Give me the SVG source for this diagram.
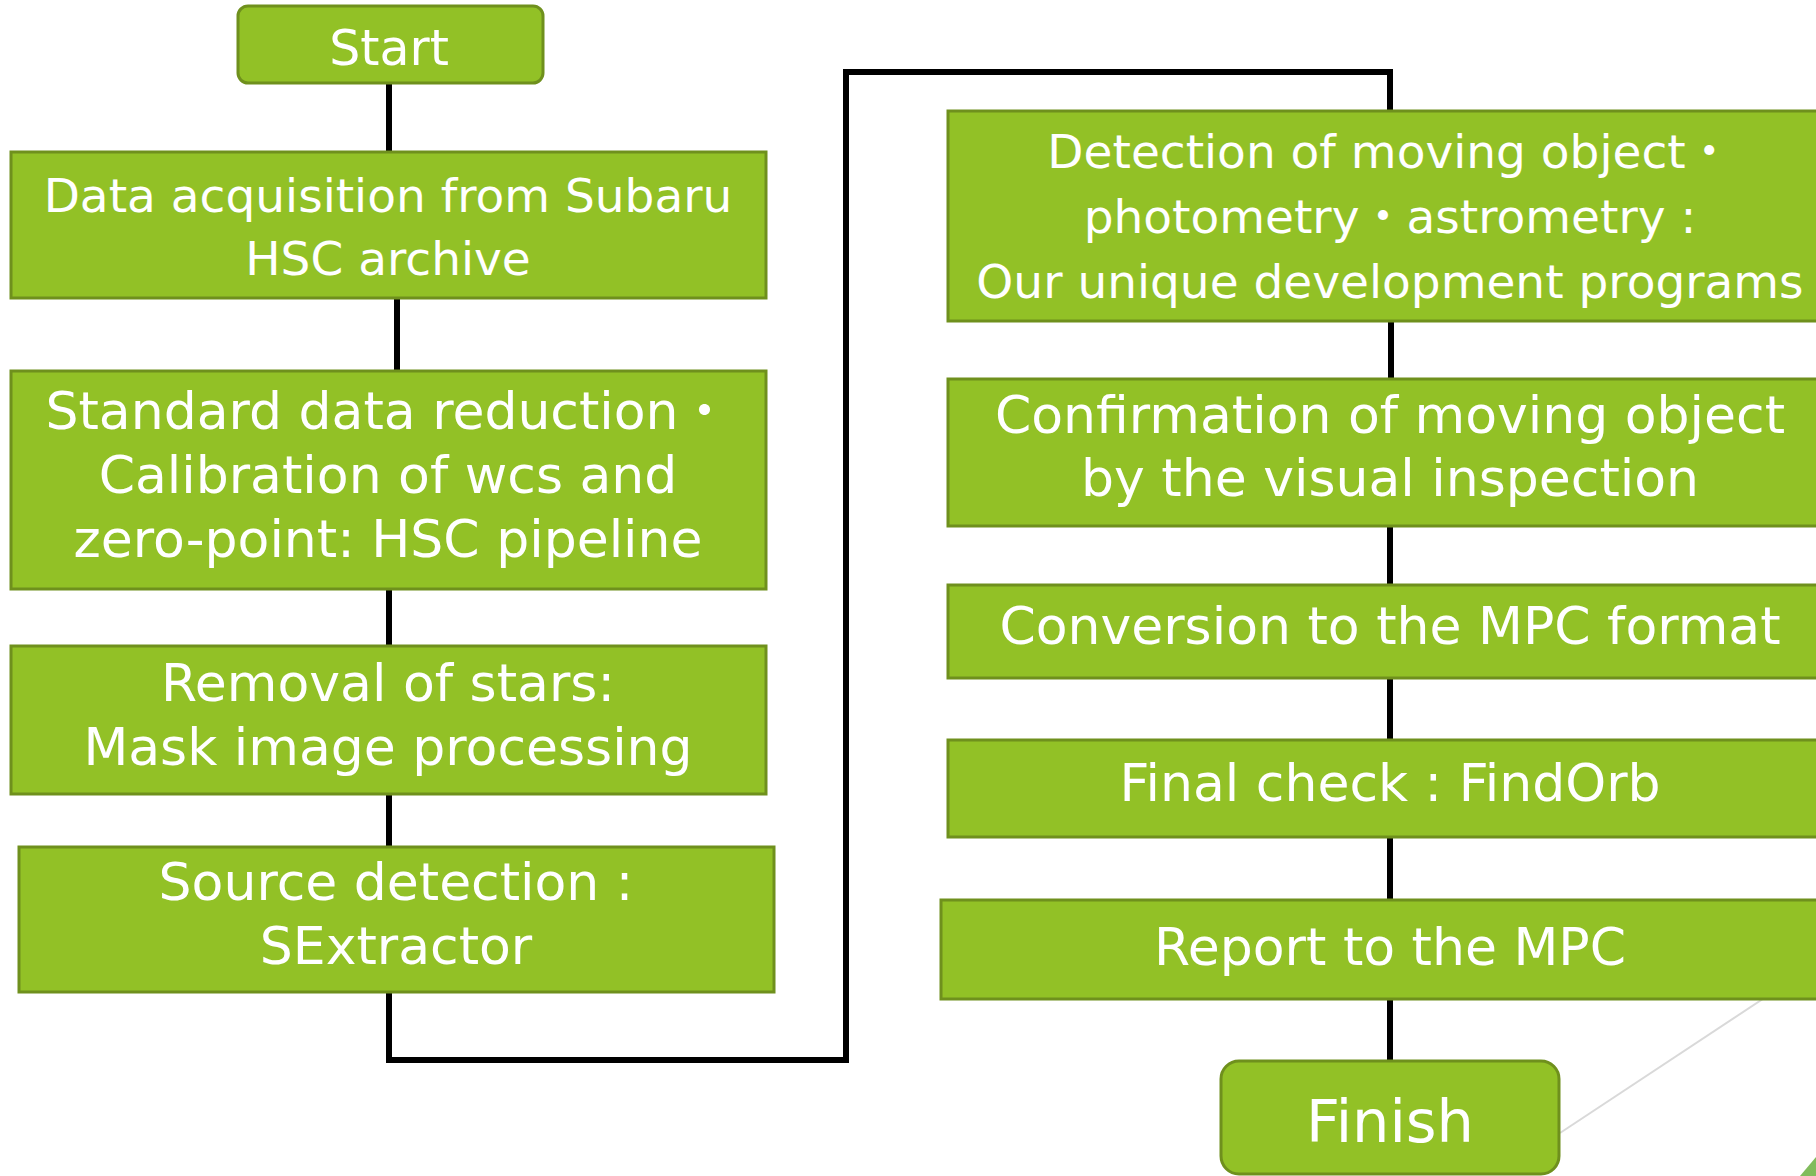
<svg xmlns="http://www.w3.org/2000/svg" width="1816" height="1176" viewBox="0 0 1816 1176">
<style>
.box{fill:#92C126;stroke:#6F901D;stroke-width:3}
.t{fill:#ffffff;font-family:"DejaVu Sans","Noto Sans CJK JP",sans-serif;font-size:47px;text-anchor:middle}
.L{font-size:52px}
.c{fill:none;stroke:#000000;stroke-width:6;stroke-linejoin:miter}
</style>
<rect width="1816" height="1176" fill="#ffffff"/>
<line x1="1560" y1="1133" x2="1790" y2="981" stroke="#d9d9d9" stroke-width="2"/>
<polygon points="1800,1176 1816,1157 1816,1176" fill="#80bc5c"/>
<g id="connectors">
<path class="c" d="M389 83V152"/>
<path class="c" d="M397 298V371"/>
<path class="c" d="M389 589V646"/>
<path class="c" d="M389 794V847"/>
<path class="c" d="M389 992V1060H846V72H1390V111"/>
<path class="c" d="M1391 321V379"/>
<path class="c" d="M1390 526V585"/>
<path class="c" d="M1390 678V740"/>
<path class="c" d="M1390 837V900"/>
<path class="c" d="M1390 999V1061"/>
</g>
<g id="start"><rect class="box" x="238" y="6" width="305" height="77" rx="10"/><text class="t" x="389" y="65" style="font-size:49px">Start</text></g>
<g id="acquisition"><rect class="box" x="11" y="152" width="755" height="146"/><text class="t" x="388" y="212">Data acquisition from Subaru</text><text class="t" x="388" y="275">HSC archive</text></g>
<g id="reduction"><rect class="box" x="11" y="371" width="755" height="218"/><text class="t L" x="388" y="429">Standard data reduction・</text><text class="t L" x="388" y="493">Calibration of wcs and</text><text class="t L" x="388" y="557">zero-point: HSC pipeline</text></g>
<g id="removal"><rect class="box" x="11" y="646" width="755" height="148"/><text class="t L" x="388" y="701">Removal of stars:</text><text class="t L" x="388" y="765">Mask image processing</text></g>
<g id="source"><rect class="box" x="19" y="847" width="755" height="145"/><text class="t L" x="396" y="900">Source detection :</text><text class="t L" x="396" y="964">SExtractor</text></g>
<g id="detection"><rect class="box" x="948" y="111" width="884" height="210"/><text class="t" x="1390" y="168">Detection of moving object・</text><text class="t" x="1390" y="233">photometry・astrometry :</text><text class="t" x="1390" y="298">Our unique development programs</text></g>
<g id="confirmation"><rect class="box" x="948" y="379" width="884" height="147"/><text class="t L" x="1390" y="433">Confirmation of moving object</text><text class="t L" x="1390" y="496">by the visual inspection</text></g>
<g id="conversion"><rect class="box" x="948" y="585" width="884" height="93"/><text class="t L" x="1390" y="644">Conversion to the MPC format</text></g>
<g id="finalcheck"><rect class="box" x="948" y="740" width="884" height="97"/><text class="t L" x="1390" y="801">Final check : FindOrb</text></g>
<g id="report"><rect class="box" x="941" y="900" width="898" height="99"/><text class="t L" x="1390" y="965">Report to the MPC</text></g>
<g id="finish"><rect class="box" x="1221" y="1061" width="338" height="113" rx="18"/><text class="t" x="1390" y="1142" style="font-size:59px">Finish</text></g>
</svg>
